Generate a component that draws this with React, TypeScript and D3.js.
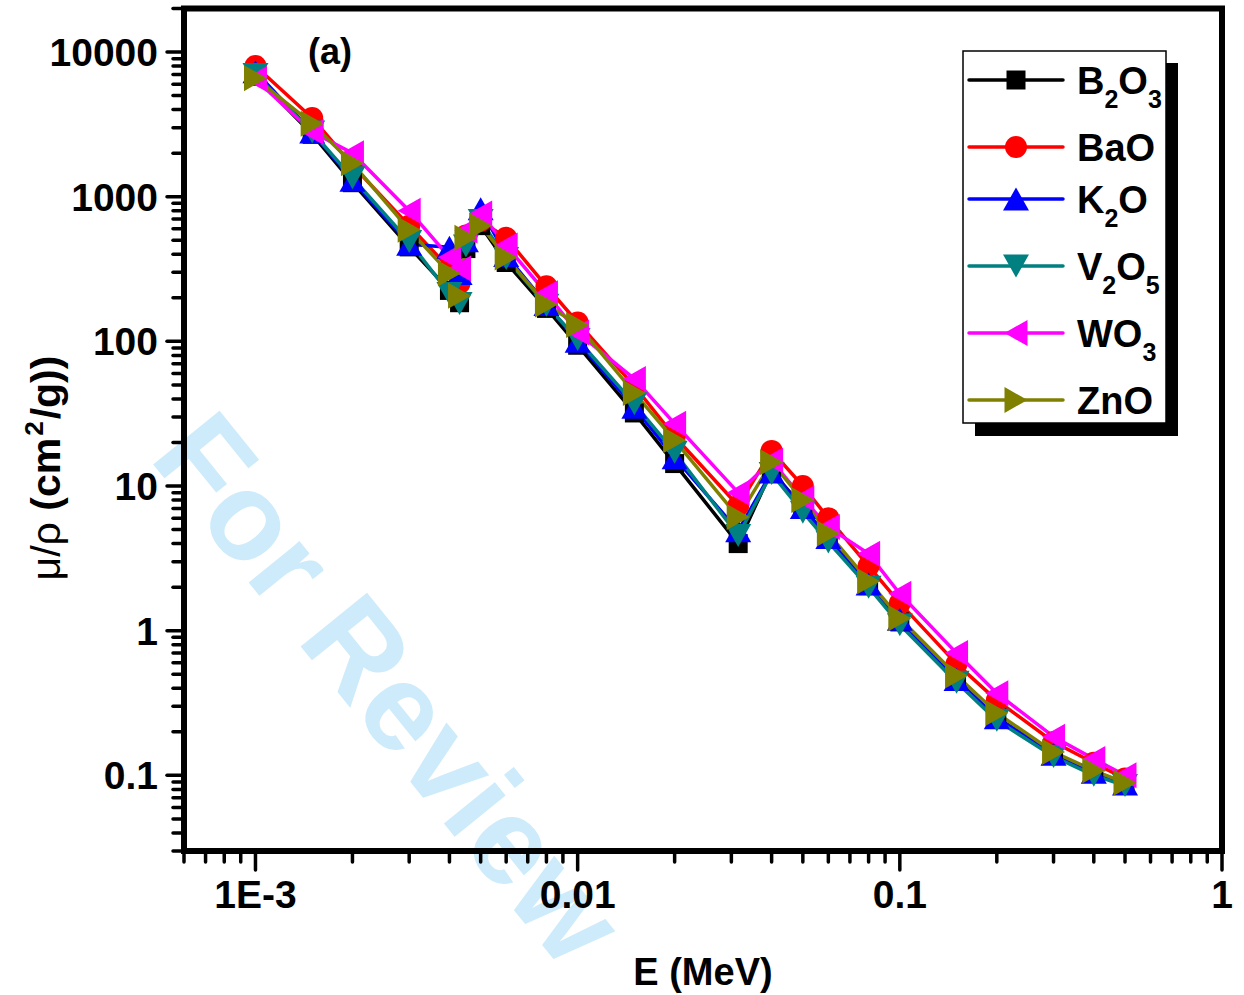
import React from "react";
import * as d3 from "d3";

const energies = [0.001, 0.0015, 0.002, 0.003, 0.004, 0.0043, 0.0045, 0.005, 0.006, 0.008, 0.01, 0.015, 0.02, 0.0315, 0.04, 0.05, 0.06, 0.08, 0.1, 0.15, 0.2, 0.3, 0.4, 0.5];
const b2o3 = [6800, 2700, 1250, 450, 225, 185, 438, 631, 351, 169, 94, 32, 14.3, 4.0, 12.8, 7.1, 4.3, 2.05, 1.15, 0.45, 0.25, 0.14, 0.105, 0.087];
const bao = [8000, 3500, 1650, 630, 320, 252, 540, 680, 520, 240, 135, 49, 22, 7.3, 17.5, 10, 6, 2.8, 1.55, 0.59, 0.33, 0.17, 0.122, 0.095];
const k2o = [7300, 2800, 1300, 470, 447, 295, 497, 826, 393, 180, 100, 35, 15.7, 4.9, 12.5, 7.1, 4.4, 2.1, 1.2, 0.46, 0.25, 0.14, 0.105, 0.087];
const v2o5 = [7000, 2800, 1350, 490, 214, 183, 457, 684, 374, 178, 103, 37, 17.1, 4.55, 12.2, 6.6, 4.1, 2.0, 1.1, 0.44, 0.24, 0.135, 0.1, 0.085];
const wo3 = [6500, 2800, 2000, 800, 381, 319, 583, 764, 460, 215, 115, 55, 27, 9.0, 15, 8.2, 5.2, 3.4, 1.8, 0.7, 0.37, 0.185, 0.13, 0.1];
const zno = [6600, 3200, 1700, 590, 295, 207, 521, 631, 380, 180, 130, 44, 20.7, 6.1, 14.6, 8, 4.7, 2.2, 1.22, 0.49, 0.27, 0.145, 0.108, 0.089];

const xTickValues = [0.001, 0.01, 0.1, 1];
const xTickLabels = ["1E-3", "0.01", "0.1", "1"];
const yTickValues = [10000, 1000, 100, 10, 1, 0.1];
const yTickLabels = ["10000", "1000", "100", "10", "1", "0.1"];

type Part = { t: string; sub?: boolean };
const seriesNames: Part[][] = [
  [{ t: "B" }, { t: "2", sub: true }, { t: "O" }, { t: "3", sub: true }],
  [{ t: "BaO" }],
  [{ t: "K" }, { t: "2", sub: true }, { t: "O" }],
  [{ t: "V" }, { t: "2", sub: true }, { t: "O" }, { t: "5", sub: true }],
  [{ t: "WO" }, { t: "3", sub: true }],
  [{ t: "ZnO" }],
];
const seriesValues = [b2o3, bao, k2o, v2o5, wo3, zno];
const seriesColors = ["#000000", "#FF0000", "#0000FF", "#008080", "#FF00FF", "#808000"];
const seriesMarkers = ["square", "circle", "up", "down", "left", "right"];

const FONT = "'Liberation Sans', Arial, Helvetica, sans-serif";

function markerPath(kind: string): string {
  const s = 9.5;
  const w = 13, h = 11.5;
  switch (kind) {
    case "square":
      return `M${-s},${-s}H${s}V${s}H${-s}Z`;
    case "circle": {
      const r = 11;
      return `M${r},0A${r},${r} 0 1,1 ${-r},0A${r},${r} 0 1,1 ${r},0Z`;
    }
    case "up":
      return `M0,${-h}L${w},${h}L${-w},${h}Z`;
    case "down":
      return `M0,${h}L${w},${-h}L${-w},${-h}Z`;
    case "left":
      return `M${-h},0L${h},${-w}L${h},${w}Z`;
    case "right":
    default:
      return `M${h},0L${-h},${-w}L${-h},${w}Z`;
  }
}

export default function App() {
  const W = 1244, H = 995;
  const x = d3.scaleLog().domain([0.0006, 1]).range([184, 1222]);
  const y = d3.scaleLog().domain([0.03, 20000]).range([851, 8.5]);
  const [x0, x1] = x.range();
  const [y0, y1] = y.range();

  const xMinor: number[] = [];
  for (let e = -4; e <= 0; e++) {
    for (let m = 2; m <= 9; m++) {
      const v = m * Math.pow(10, e);
      if (v >= 0.0006 - 1e-12 && v < 1) xMinor.push(v);
    }
  }
  const yMinor: number[] = [];
  for (let e = -2; e <= 4; e++) {
    for (let m = 2; m <= 9; m++) {
      const v = m * Math.pow(10, e);
      if (v >= 0.03 - 1e-12 && v <= 20000 + 1e-9) yMinor.push(v);
    }
  }

  const line = d3
    .line<[number, number]>()
    .x((d) => x(d[0]))
    .y((d) => y(d[1]));

  const legendRows = [80, 147, 199, 266, 333, 400];

  return (
    <svg width={W} height={H} style={{ display: "block", position: "absolute", left: 0, top: 0 }} fontFamily={FONT}>
      <rect x={0} y={0} width={W} height={H} fill="#ffffff" />
      {/* watermark */}
      <text
        transform="translate(148,458) rotate(51)"
        fontSize={124}
        fontWeight="bold"
        fill="#cdebfa"
        fontFamily={FONT}
      >
        For Review
      </text>

      {/* series lines */}
      {seriesValues.map((vals, i) => (
        <path
          key={"l" + i}
          d={line(energies.map((e, j) => [e, vals[j]] as [number, number])) || ""}
          fill="none"
          stroke={seriesColors[i]}
          strokeWidth={3.5}
          strokeLinejoin="round"
        />
      ))}
      {/* markers */}
      {seriesValues.map((vals, i) => (
        <g key={"m" + i} fill={seriesColors[i]}>
          {energies.map((e, j) => (
            <path key={j} d={markerPath(seriesMarkers[i])} transform={`translate(${x(e)},${y(vals[j])})`} />
          ))}
        </g>
      ))}

      {/* frame */}
      <rect x={x0} y={y1} width={x1 - x0} height={y0 - y1} fill="none" stroke="#000" strokeWidth={6} />

      {/* ticks */}
      <g stroke="#000" strokeWidth={3.5} strokeLinecap="round">
        {xMinor.map((v, i) => (
          <line key={"xm" + i} x1={x(v)} x2={x(v)} y1={y0} y2={y0 + 11} />
        ))}
        {xTickValues.map((v, i) => (
          <line key={"xM" + i} x1={x(v)} x2={x(v)} y1={y0} y2={y0 + 19} />
        ))}
        {yMinor.map((v, i) => (
          <line key={"ym" + i} x1={x0} x2={x0 - 11} y1={y(v)} y2={y(v)} />
        ))}
        {yTickValues.map((v, i) => (
          <line key={"yM" + i} x1={x0} x2={x0 - 17} y1={y(v)} y2={y(v)} />
        ))}
      </g>

      {/* tick labels */}
      <g fontSize={39} fontWeight="bold" fill="#000">
        {xTickValues.map((v, i) => (
          <text key={"xl" + i} x={x(v)} y={908} textAnchor="middle">
            {xTickLabels[i]}
          </text>
        ))}
        {yTickValues.map((v, i) => (
          <text key={"yl" + i} x={158} y={y(v) + 14} textAnchor="end">
            {yTickLabels[i]}
          </text>
        ))}
      </g>

      {/* axis titles */}
      <text x={(x0 + x1) / 2} y={985} textAnchor="middle" fontSize={38} fontWeight="bold">
        E (MeV)
      </text>
      <text transform="translate(60,468) rotate(-90)" textAnchor="middle" fontSize={41}>
        <tspan fontWeight="normal">μ/ρ</tspan>
        <tspan fontWeight="bold"> (cm</tspan>
        <tspan fontWeight="bold" fontSize={26} dy={-17} dx={2}>2</tspan>
        <tspan fontWeight="bold" dy={17} dx={2}>/g))</tspan>
      </text>

      {/* panel label */}
      <text x={308} y={64} fontSize={36} fontWeight="bold">
        (a)
      </text>

      {/* legend */}
      <rect x={975} y={63} width={203} height={373} fill="#000" />
      <rect x={963} y={51} width={203} height={372} fill="#fff" stroke="#000" strokeWidth={1.5} />
      {seriesNames.map((parts, i) => {
        const ly = legendRows[i];
        return (
          <g key={"lg" + i}>
            <line x1={969} x2={1063} y1={ly} y2={ly} stroke={seriesColors[i]} strokeWidth={3.5} strokeLinecap="round" />
            <path d={markerPath(seriesMarkers[i])} transform={`translate(1016,${ly})`} fill={seriesColors[i]} />
            <text x={1077} y={ly + 14} fontSize={38} fontWeight="bold">
              {parts.map((p, k) => {
                const prevSub = k > 0 && parts[k - 1].sub;
                const dy = p.sub ? 14 : prevSub ? -14 : 0;
                return (
                  <tspan key={k} fontSize={p.sub ? 25 : 38} dy={dy}>
                    {p.t}
                  </tspan>
                );
              })}
            </text>
          </g>
        );
      })}
    </svg>
  );
}
